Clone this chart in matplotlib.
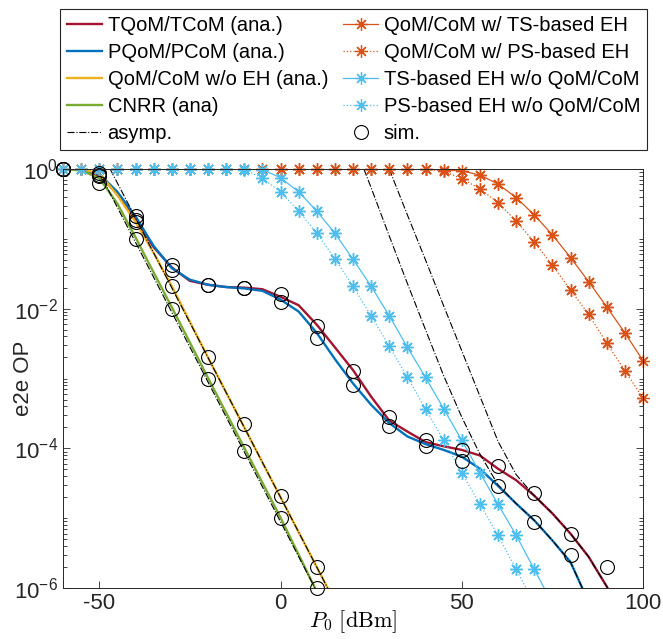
import matplotlib
matplotlib.use("Agg")
import matplotlib.pyplot as plt
import numpy as np
from matplotlib.ticker import FixedLocator, LogLocator, NullFormatter

plt.rcParams["font.family"] = ["Liberation Sans", "DejaVu Sans"]
plt.rcParams["axes.unicode_minus"] = False

# ---- analytical curves (P0 in dBm, 5 dB steps) ----
p_red = np.arange(-60, 100, 5)
tqom_op = [1, 0.98, 0.79, 0.45, 0.19, 0.076, 0.039, 0.025, 0.022, 0.0204, 0.020,
           0.019, 0.0148, 0.0112, 5.9e-3, 2.8e-3, 1.32e-3, 5.5e-4, 2.5e-4, 1.74e-4,
           1.23e-4, 1.07e-4, 9.5e-5, 7.9e-5, 5.1e-5, 3.5e-5, 2.1e-5, 1.17e-5,
           6.0e-6, 2.8e-6, 1.05e-6, 3.2e-7]

p_blue = np.arange(-60, 90, 5)
pqom_op = [1, 0.98, 0.85, 0.47, 0.21, 0.079, 0.038, 0.026, 0.022, 0.0204, 0.0195,
           0.018, 0.0135, 9.1e-3, 4.5e-3, 1.9e-3, 8.5e-4, 4.2e-4, 2.3e-4, 1.48e-4,
           1.15e-4, 9.5e-5, 7.6e-5, 5.1e-5, 2.9e-5, 1.62e-5, 9.3e-6, 4.8e-6,
           2.35e-6, 6.3e-7]

p_noeh = [-60, -55, -50, -45, -40, -35, -30, -20, -10, 0, 10, 15]
noeh_op = [1, 0.99, 0.87, 0.42, 0.175, 0.063, 0.021, 2.0e-3, 2.0e-4, 2.0e-5, 2.0e-6, 6.3e-7]

p_cnrr = [-60, -55, -50, -45, -40, -35, -30, -20, -10, 0, 10]
cnrr_op = [1, 0.95, 0.74, 0.32, 0.105, 0.033, 0.0105, 1.02e-3, 1.02e-4, 1.02e-5, 8.9e-7]

# ---- asymptotes ----
asym_blue_x = [23, 25, 30, 35, 40, 45, 50, 55, 60, 65, 70, 75, 80, 85]
asym_blue = [1, 0.54, 0.11, 0.023, 5.0e-3, 1.1e-3, 2.8e-4, 8.3e-5, 3.0e-5,
             1.62e-5, 9.3e-6, 4.8e-6, 2.35e-6, 6.3e-7]
asym_red_x = [30, 35, 40, 45, 50, 55, 60, 65, 70, 75, 80, 85, 90, 95]
asym_red = [1, 0.22, 0.05, 0.011, 2.5e-3, 5.6e-4, 1.26e-4, 4.2e-5, 2.1e-5,
            1.17e-5, 6.0e-6, 2.8e-6, 1.05e-6, 3.2e-7]
asym_noeh_x = [-47, 13]
asym_noeh = [1, 1e-6]
asym_cnrr_x = [-50.5, 9.5]
asym_cnrr = [1, 1e-6]

# ---- EH benchmarks (markers every 5 dB) ----
p_orange = np.arange(-60, 105, 5)
ts_qom_op = [1] * 21 + [0.97, 0.94, 0.82, 0.61, 0.39, 0.22, 0.114, 0.054,
                        0.0244, 0.0106, 4.5e-3, 1.8e-3]
ps_qom_op = [1] * 21 + [0.93, 0.73, 0.52, 0.33, 0.18, 0.09, 0.042, 0.0185,
                        8.3e-3, 3.2e-3, 1.3e-3, 5.2e-4]

p_ts = np.arange(-60, 80, 5)
ts_only_op = [1] * 11 + [0.98, 0.75, 0.47, 0.25, 0.12, 0.051, 0.021, 7.9e-3,
                         2.8e-3, 1.04e-3, 3.7e-4, 1.3e-4, 4.5e-5, 1.58e-5,
                         5.7e-6, 1.85e-6, 6.0e-7]
p_ps = np.arange(-60, 75, 5)
ps_only_op = [1] * 10 + [0.98, 0.74, 0.47, 0.25, 0.12, 0.052, 0.021, 7.9e-3,
                         2.9e-3, 1.04e-3, 3.7e-4, 1.3e-4, 4.5e-5, 1.58e-5,
                         5.7e-6, 1.85e-6, 6.0e-7]

# ---- simulation points ----
sim_x = np.arange(-60, 100, 10)
sim_red = [1, 0.87, 0.21, 0.042, 0.022, 0.020, 0.016, 5.6e-3, 1.29e-3, 2.8e-4,
           1.3e-4, 9.4e-5, 5.5e-5, 2.3e-5, 6.0e-6, 2.0e-6]
sim_blue_x = np.arange(-60, 90, 10)
sim_blue = [1, 0.82, 0.186, 0.036, 0.022, 0.020, 0.0126, 3.8e-3, 8.1e-4, 2.1e-4,
            1.07e-4, 6.6e-5, 2.9e-5, 8.9e-6, 3.0e-6]
sim_low_x = np.arange(-60, 20, 10)
sim_noeh = [1, 0.79, 0.176, 0.021, 2.0e-3, 2.2e-4, 2.1e-5, 2.0e-6]
sim_cnrr = [1, 0.64, 0.098, 0.010, 1.0e-3, 9.1e-5, 1.02e-5, 1.0e-6]

RED, BLUE, YEL, GRN = "#A2142F", "#0072BD", "#EDB120", "#77AC30"
ORG, CYAN = "#D95319", "#4DBEEE"
star = (8, 2, 0)

fig = plt.figure(figsize=(6.63, 6.39), dpi=100)
ax = fig.add_axes([63 / 663, 51 / 639, 580 / 663, 419 / 639])

h_red, = ax.plot(p_red, tqom_op, color=RED, lw=1.7)
h_blue, = ax.plot(p_blue, pqom_op, color=BLUE, lw=1.7)
h_yel, = ax.plot(p_noeh, noeh_op, color=YEL, lw=1.7)
h_grn, = ax.plot(p_cnrr, cnrr_op, color=GRN, lw=1.7)

asym_kw = dict(color="k", ls="-.", lw=0.8)
h_asym, = ax.plot(asym_blue_x, asym_blue, **asym_kw)
ax.plot(asym_red_x, asym_red, **asym_kw)
ax.plot(asym_noeh_x, asym_noeh, **asym_kw)
ax.plot(asym_cnrr_x, asym_cnrr, **asym_kw)


def eh_curve(x, y, color, ls):
    x = np.asarray(x)
    y = np.asarray(y)
    h, = ax.plot(x, y, color=color, ls=ls, lw=0.9, marker=star, ms=9, mew=0.9)
    # markers on the frame are not clipped (as in the original figure)
    keep = y >= 1e-6
    ax.plot(x[keep], y[keep], ls="none", marker=star, ms=9, mew=0.9,
            color=color, clip_on=False)
    return h


h_ots = eh_curve(p_orange, ts_qom_op, ORG, "-")
h_ops = eh_curve(p_orange, ps_qom_op, ORG, ":")
h_cts = eh_curve(p_ts, ts_only_op, CYAN, "-")
h_cps = eh_curve(p_ps, ps_only_op, CYAN, ":")

sim_kw = dict(ls="none", marker="o", ms=10, mfc="none", mec="k", mew=0.8, clip_on=False)
h_sim, = ax.plot(sim_x, sim_red, **sim_kw)
ax.plot(sim_blue_x, sim_blue, **sim_kw)
ax.plot(sim_low_x, sim_noeh, **sim_kw)
ax.plot(sim_low_x, sim_cnrr, **sim_kw)

ax.set_yscale("log")
ax.set_xlim(-60, 100)
ax.set_ylim(1e-6, 1)
ax.xaxis.set_major_locator(FixedLocator([-50, 0, 50, 100]))
ax.yaxis.set_major_locator(FixedLocator([1e-6, 1e-4, 1e-2, 1]))
ax.yaxis.set_minor_locator(LogLocator(base=10, subs=np.arange(1, 10), numticks=50))
ax.yaxis.set_minor_formatter(NullFormatter())
ax.tick_params(which="both", direction="in", top=True, right=True,
               colors="#262626", width=0.6, labelsize=16, labelcolor="#262626")
ax.tick_params(which="major", length=5)
ax.tick_params(which="minor", length=3)
for s in ax.spines.values():
    s.set_color("#262626")
    s.set_linewidth(0.7)

ax.set_xlabel(r"$P_0\ [\mathrm{dBm}]$", fontsize=16, math_fontfamily="cm",
              labelpad=-4)
ax.set_ylabel("e2e OP", fontsize=16, color="#262626")
ax.yaxis.set_label_coords(-0.05, 0.5)

handles = [h_red, h_blue, h_yel, h_grn, h_asym, h_ots, h_ops, h_cts, h_cps, h_sim]
labels = ["TQoM/TCoM (ana.)", "PQoM/PCoM (ana.)", "QoM/CoM w/o EH (ana.)",
          "CNRR (ana)", "asymp.", "QoM/CoM w/ TS-based EH",
          "QoM/CoM w/ PS-based EH", "TS-based EH w/o QoM/CoM",
          "PS-based EH w/o QoM/CoM", "sim."]
leg = ax.legend(handles, labels, ncol=2, loc="upper left",
                bbox_to_anchor=(60 / 663, 1 - 9 / 639), bbox_transform=fig.transFigure,
                fancybox=False, framealpha=1, edgecolor="#262626", fontsize=14.5,
                handlelength=1.75, handletextpad=0.26, columnspacing=0.75,
                labelspacing=0.4, borderpad=0.35, borderaxespad=0, numpoints=1)
leg.get_frame().set_linewidth(0.8)

fig.savefig("out.png", dpi=100)
